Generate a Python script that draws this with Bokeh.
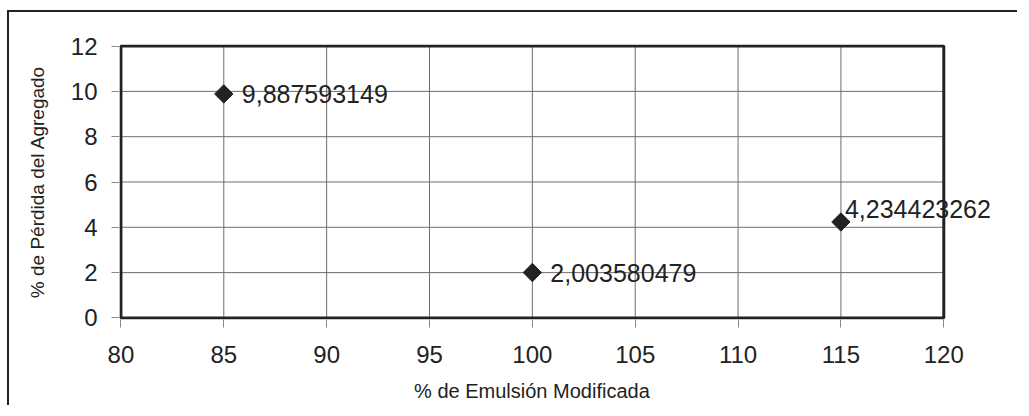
import math
from bokeh.plotting import figure
from bokeh.models import ColumnDataSource, FixedTicker, Range1d, Label
from bokeh.embed import file_html
from bokeh.resources import INLINE

# ---- data ----
emulsion = [85, 100, 115]
perdida = [9.887593149, 2.003580479, 4.234423262]
label_text = ["9,887593149", "2,003580479", "4,234423262"]
x_ticks = [80, 85, 90, 95, 100, 105, 110, 115, 120]
y_ticks = [0, 2, 4, 6, 8, 10, 12]
x_title = "% de Emulsión Modificada"
y_title = "% de Pérdida del Agregado"

# label placement (screen px, y up)
label_dx = [18, 18, 4]
label_dy = [0, 0, 13]

FONT = "Liberation Sans"
INK = "#222222"
GRID = "#6e6e6e"

x0, x1 = x_ticks[0], x_ticks[-1]
y0, y1 = y_ticks[0], y_ticks[-1]

src = ColumnDataSource(dict(x=emulsion, y=perdida))

# the frame is extended a little so that the last label may overflow the box
p = figure(width=1010, height=395, output_backend="svg", toolbar_location=None,
           x_range=Range1d(x0 - 0.07, x1 + 3), y_range=Range1d(y0 - 0.07, y1 + 0.07),
           min_border_left=110, min_border_right=14, min_border_top=32, min_border_bottom=88)
p.styles = {"border-left": f"2px solid {INK}", "border-top": f"2px solid {INK}",
            "margin-left": "7px", "margin-top": "10px"}

p.outline_line_color = None
p.background_fill_color = "white"
p.border_fill_color = "white"
p.xgrid.visible = False
p.ygrid.visible = False

for ax in (p.xaxis[0], p.yaxis[0]):
    ax.axis_line_color = None
    ax.major_tick_line_color = "#888888"
    ax.major_tick_out = 8
    ax.major_tick_in = 0
    ax.minor_tick_line_color = None
    ax.major_label_text_font = FONT
    ax.major_label_text_font_size = "24px"
    ax.major_label_text_color = INK
    ax.axis_label_text_font = FONT
    ax.axis_label_text_font_style = "normal"
    ax.axis_label_text_color = INK

p.xaxis.bounds = (x0, x1)
p.yaxis.bounds = (y0, y1)
p.xaxis.axis_label_text_font_size = "20px"
p.yaxis.axis_label_text_font_size = "19px"
p.xaxis.ticker = FixedTicker(ticks=x_ticks)
p.yaxis.ticker = FixedTicker(ticks=y_ticks)
# trailing no-break spaces re-centre the title under the 80..120 box
p.xaxis.axis_label = x_title + "\u00a0" * 11
p.yaxis.axis_label = y_title
p.xaxis.major_label_standoff = 18
p.yaxis.major_label_standoff = 14
p.xaxis.axis_label_standoff = 14
p.yaxis.axis_label_standoff = 20

# grid lines
p.segment(x0=x_ticks, x1=x_ticks, y0=[y0] * len(x_ticks), y1=[y1] * len(x_ticks),
          line_color=GRID, line_width=1)
p.segment(x0=[x0] * len(y_ticks), x1=[x1] * len(y_ticks), y0=y_ticks, y1=y_ticks,
          line_color=GRID, line_width=1)
# plot-area box
p.quad(left=[x0], right=[x1], bottom=[y0], top=[y1], fill_color=None,
       line_color=INK, line_width=3)

p.scatter("x", "y", source=src, marker="square", size=13, angle=math.pi / 4,
          fill_color=INK, line_color=INK)

for xv, yv, t, dx, dy in zip(emulsion, perdida, label_text, label_dx, label_dy):
    p.add_layout(Label(x=xv, y=yv, text=t, x_offset=dx, y_offset=dy,
                       text_font=FONT, text_font_size="25px", text_color=INK,
                       text_align="left", text_baseline="middle"))

open("out.html", "w").write(file_html(p, INLINE))
